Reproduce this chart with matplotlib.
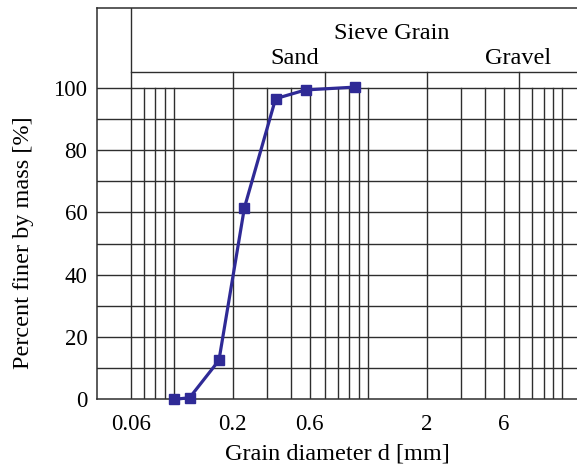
import numpy as np
import matplotlib
matplotlib.use("Agg")
import matplotlib.pyplot as plt

# Data
diameter = [0.1, 0.12, 0.17, 0.23, 0.333, 0.475, 0.85]     # mm
percent_finer = [0, 0.5, 12.5, 61.5, 96.5, 99.3, 100.2]   # %

xtick_pos = [0.06, 0.2, 0.5, 2, 5]
xtick_labels = ["0.06", "0.2", "0.6", "2", "6"]
yticks = [0, 20, 40, 60, 80, 100]

vgrid = [0.06, 0.07, 0.08, 0.09, 0.1,
         0.2, 0.3, 0.4, 0.5, 0.6, 0.7, 0.8, 0.9, 1.0,
         2, 3, 4, 5, 6, 7, 8, 9, 10]
header_ticks = [0.2, 0.6, 2, 6]

plt.rcParams['font.family'] = ['Liberation Serif', 'DejaVu Serif']
gc = '#2e2e2e'

fig = plt.figure(figsize=(5.77, 4.67), dpi=100)
ax = fig.add_axes([97/577, 1 - 399.3/467, 1 - 97/577, (399.3 - 8)/467])
ax.set_xscale('log')
ax.set_xlim(0.04, 11.9)
ax.set_ylim(0, 125.6)

# grid
for y in range(10, 101, 10):
    ax.axhline(y, color=gc, lw=1.0, zorder=1)
for x in vgrid:
    ax.plot([x, x], [0, 100], color=gc, lw=1.0, zorder=1)
ax.plot([0.06, 0.06], [100, 125.6], color=gc, lw=1.0, zorder=1)
ax.plot([0.06, 11.9], [105, 105], color=gc, lw=1.0, zorder=1)
for x in header_ticks:
    ax.plot([x, x], [100, 105], color=gc, lw=1.0, zorder=1)

ax.text(1.32, 117.5, "Sieve Grain", ha='center', va='center', fontsize=17.5)
ax.text(0.42, 109.5, "Sand", ha='center', va='center', fontsize=17.5)
ax.text(5.9, 109.5, "Gravel", ha='center', va='center', fontsize=17.5)

ax.plot(diameter, percent_finer, color='#2f2a96', lw=2.3, marker='s',
        markersize=7, zorder=3, clip_on=False)

ax.set_xticks(xtick_pos)
ax.set_xticklabels(xtick_labels)
ax.xaxis.set_minor_locator(matplotlib.ticker.NullLocator())
ax.set_yticks(yticks)
ax.tick_params(axis='both', length=0, labelsize=16.5)
ax.tick_params(axis='x', pad=10.5)
ax.tick_params(axis='y', pad=7)

ax.set_xlabel("Grain diameter d [mm]", fontsize=17.5)
ax.xaxis.set_label_coords(0.5, -0.112)
ax.set_ylabel("Percent finer by mass [%]", fontsize=17.5)
ax.yaxis.set_label_coords(-0.131, 0.40)

for s in ['left', 'top', 'bottom']:
    ax.spines[s].set_color(gc)
    ax.spines[s].set_linewidth(1.1)
ax.spines['right'].set_visible(False)

fig.savefig("out.png", dpi=100)
